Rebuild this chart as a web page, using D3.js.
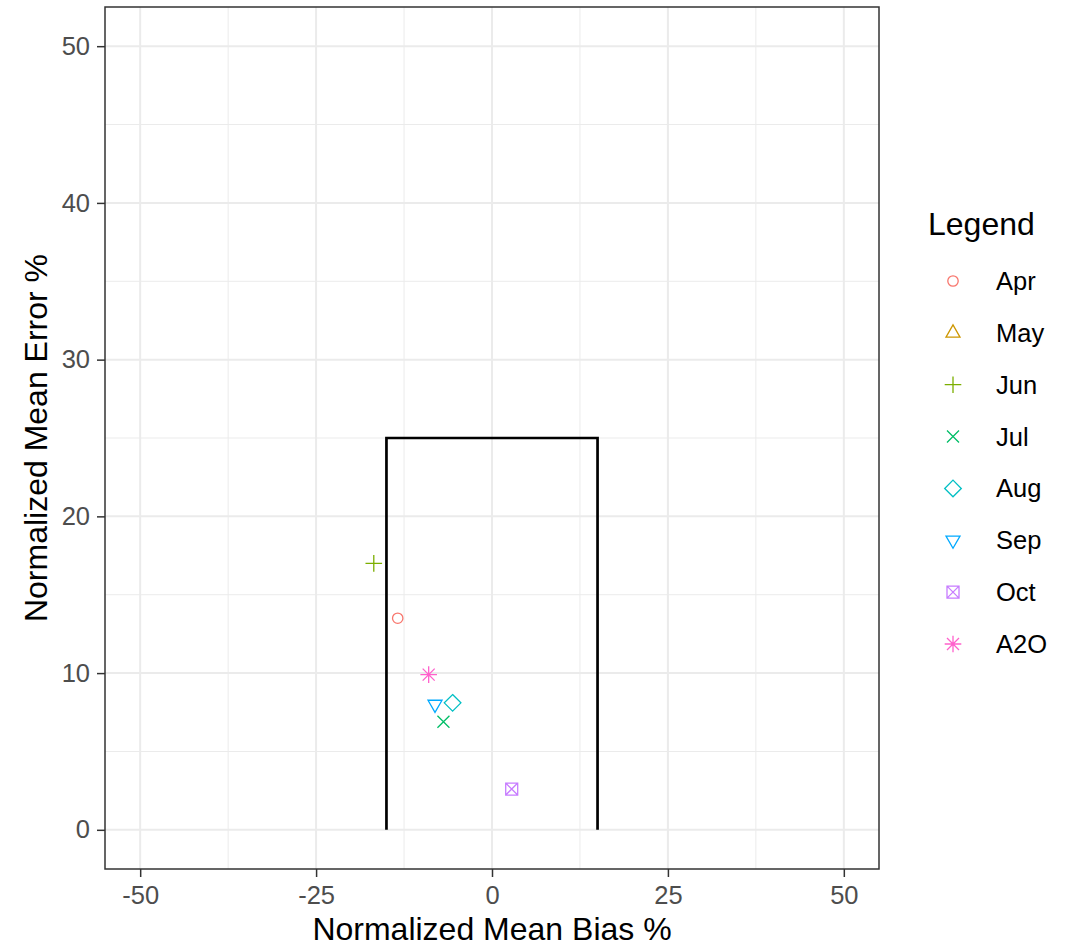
<!DOCTYPE html>
<html>
<head>
<meta charset="utf-8">
<script src="https://cdn.jsdelivr.net/npm/d3@7"></script>
<style>
  body { margin: 0; background: #fff; }
  text { font-family: "Liberation Sans", Arial, sans-serif; }
</style>
</head>
<body>
<div id="chart"></div>
<script>
// month labels, NMB (x) and NME (y) values; May has no point
const months = ["Apr", "May", "Jun", "Jul", "Aug", "Sep", "Oct", "A2O"];
const biasValues = [-13.4, null, -16.8, -6.9, -5.6, -8.1, 2.8, -9.0];
const errorValues = [13.5, null, 17.0, 6.9, 8.1, 8.0, 2.6, 9.9];
const monthColors = ["#F8766D", "#CD9600", "#7CAE00", "#00BE67", "#00BFC4", "#00A9FF", "#C77CFF", "#FF61CC"];
const monthShapes = ["circle", "triangle", "plus", "cross", "diamond", "triangleDown", "squareCross", "asterisk"];

// performance goal box (bias +-15, error 25)
const goalX = [-15, -15, 15, 15];
const goalY = [0, 25, 25, 0];

const xTicks = [-50, -25, 0, 25, 50];
const xMinor = [-37.5, -12.5, 12.5, 37.5];
const yTicks = [0, 10, 20, 30, 40, 50];
const yMinor = [5, 15, 25, 35, 45];

const W = 1073, H = 946;
const panel = { left: 105, right: 879, top: 7, bottom: 869 };

const svg = d3.select("#chart").append("svg")
    .attr("width", W)
    .attr("height", H);

const x = d3.scaleLinear().domain([-55, 55]).range([panel.left, panel.right]);
const y = d3.scaleLinear().domain([-2.5, 52.5]).range([panel.bottom, panel.top]);

// shape paths, centred on 0,0
function shapePath(name) {
    switch (name) {
        case "circle": {
            let p = d3.path();
            p.arc(0, 0, 5.2, 0, 2 * Math.PI);
            return p.toString();
        }
        case "triangle":
            return "M0,-8L7,4.2L-7,4.2Z";
        case "triangleDown":
            return "M0,8L7,-4.2L-7,-4.2Z";
        case "plus":
            return "M-8.3,0H8.3M0,-8.3V8.3";
        case "cross":
            return "M-6,-6L6,6M-6,6L6,-6";
        case "diamond":
            return "M0,-8.3L8.3,0L0,8.3L-8.3,0Z";
        case "squareCross":
            return "M-6,-6H6V6H-6ZM-6,-6L6,6M-6,6L6,-6";
        case "asterisk":
            return "M-8.3,0H8.3M0,-8.3V8.3M-6,-6L6,6M-6,6L6,-6";
    }
}

// grid
const grid = svg.append("g");
grid.selectAll(".xminor").data(xMinor).enter().append("line")
    .attr("x1", d => x(d)).attr("x2", d => x(d))
    .attr("y1", panel.top).attr("y2", panel.bottom)
    .attr("stroke", "#EBEBEB").attr("stroke-width", 1);
grid.selectAll(".yminor").data(yMinor).enter().append("line")
    .attr("x1", panel.left).attr("x2", panel.right)
    .attr("y1", d => y(d)).attr("y2", d => y(d))
    .attr("stroke", "#EBEBEB").attr("stroke-width", 1);
grid.selectAll(".xmajor").data(xTicks).enter().append("line")
    .attr("x1", d => x(d)).attr("x2", d => x(d))
    .attr("y1", panel.top).attr("y2", panel.bottom)
    .attr("stroke", "#EBEBEB").attr("stroke-width", 2);
grid.selectAll(".ymajor").data(yTicks).enter().append("line")
    .attr("x1", panel.left).attr("x2", panel.right)
    .attr("y1", d => y(d)).attr("y2", d => y(d))
    .attr("stroke", "#EBEBEB").attr("stroke-width", 2);

// goal box
svg.append("path")
    .datum(goalX.map((d, i) => [d, goalY[i]]))
    .attr("d", d3.line().x(d => x(d[0])).y(d => y(d[1])))
    .attr("fill", "none")
    .attr("stroke", "#000")
    .attr("stroke-width", 2.7);

// points
const points = months.map((m, i) => ({ month: m, bias: biasValues[i], error: errorValues[i], color: monthColors[i], shape: monthShapes[i] }))
    .filter(d => d.bias !== null);

svg.selectAll(".pt").data(points).enter().append("path")
    .attr("class", "pt")
    .attr("transform", d => `translate(${x(d.bias)},${y(d.error)})`)
    .attr("d", d => shapePath(d.shape))
    .attr("fill", "none")
    .attr("stroke", d => d.color)
    .attr("stroke-width", 1.3);

// panel border
svg.append("rect")
    .attr("x", panel.left).attr("y", panel.top)
    .attr("width", panel.right - panel.left)
    .attr("height", panel.bottom - panel.top)
    .attr("fill", "none")
    .attr("stroke", "#333")
    .attr("stroke-width", 1.5);

// axes (plain hyphen for negatives, like the original)
const xAxis = svg.append("g")
    .attr("transform", `translate(0,${panel.bottom})`)
    .call(d3.axisBottom(x).tickValues(xTicks).tickSize(8).tickPadding(9).tickFormat(d => String(d)));
const yAxis = svg.append("g")
    .attr("transform", `translate(${panel.left},0)`)
    .call(d3.axisLeft(y).tickValues(yTicks).tickSize(8).tickPadding(7).tickFormat(d => String(d)));

[xAxis, yAxis].forEach(ax => {
    ax.select(".domain").remove();
    ax.selectAll(".tick line").attr("stroke", "#333").attr("stroke-width", 1.5);
    ax.selectAll(".tick text")
        .attr("fill", "#4D4D4D")
        .style("font-size", "25.5px")
        .style("font-family", "'Liberation Sans', Arial, sans-serif");
});

// axis titles
svg.append("text")
    .attr("x", (panel.left + panel.right) / 2)
    .attr("y", 940)
    .attr("text-anchor", "middle")
    .style("font-size", "32px")
    .text("Normalized Mean Bias %");

svg.append("text")
    .attr("transform", `translate(47,${(panel.top + panel.bottom) / 2}) rotate(-90)`)
    .attr("text-anchor", "middle")
    .style("font-size", "32px")
    .text("Normalized Mean Error %");

// legend
const legend = svg.append("g");
legend.append("text")
    .attr("x", 928).attr("y", 235)
    .style("font-size", "32px")
    .text("Legend");

const legendY = d3.scalePoint().domain(months).range([281, 644]);

const items = legend.selectAll(".item")
    .data(months.map((m, i) => ({ month: m, color: monthColors[i], shape: monthShapes[i] })))
    .enter().append("g")
    .attr("transform", d => `translate(953,${legendY(d.month)})`);

items.append("path")
    .attr("d", d => shapePath(d.shape))
    .attr("fill", "none")
    .attr("stroke", d => d.color)
    .attr("stroke-width", 1.3);

items.append("text")
    .attr("x", 43)
    .attr("y", 9)
    .style("font-size", "25.5px")
    .text(d => d.month);
</script>
</body>
</html>
